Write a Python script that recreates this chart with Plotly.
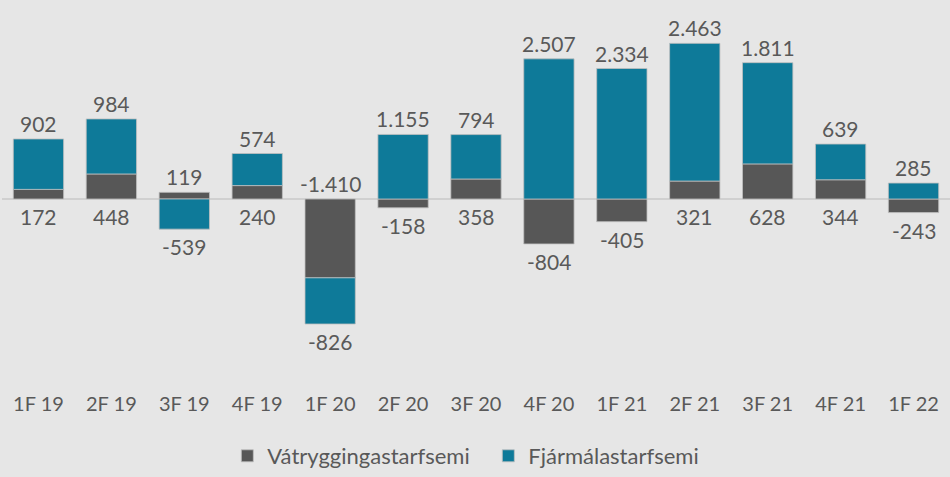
import plotly.graph_objects as go

categories = ["1F 19", "2F 19", "3F 19", "4F 19", "1F 20", "2F 20", "3F 20",
              "4F 20", "1F 21", "2F 21", "3F 21", "4F 21", "1F 22"]
vatrygging = [172, 448, 119, 240, -1410, -158, 358, -804, -405, 321, 628, 344, -243]
fjarmala = [902, 984, -539, 574, -826, 1155, 794, 2507, 2334, 2463, 1811, 639, 285]

GREY = "#575757"
TEAL = "#0E7A99"
TXT = "#595959"
BG = "#E6E6E6"
FONT = "Lato"


def fmt(v):
    s = f"{abs(v):,}".replace(",", ".")
    return ("-" if v < 0 else "") + s


fig = go.Figure()
fig.add_trace(go.Bar(x=categories, y=vatrygging, name="Vátryggingastarfsemi",
                     marker=dict(color=GREY, line=dict(color="#BFBFBF", width=0.8))))
fig.add_trace(go.Bar(x=categories, y=fjarmala, name="Fjármálastarfsemi",
                     marker=dict(color=TEAL, line=dict(color="#BFBFBF", width=0.8))))

for c, g, f in zip(categories, vatrygging, fjarmala):
    pos = sum(v for v in (g, f) if v > 0)
    neg = sum(v for v in (g, f) if v < 0)
    if f > 0:
        top, bot = f, g
    else:
        top, bot = g, f
    fig.add_annotation(x=c, y=pos, text=fmt(top), showarrow=False, yanchor="bottom",
                       yshift=1, font=dict(size=21, color=TXT, family=FONT))
    fig.add_annotation(x=c, y=neg, text=fmt(bot), showarrow=False, yanchor="top",
                       yshift=-3, font=dict(size=21, color=TXT, family=FONT))

fig.update_layout(
    barmode="relative",
    bargap=0.31,
    width=950, height=477,
    margin=dict(l=2, r=0, t=11, b=86),
    paper_bgcolor=BG, plot_bgcolor=BG,
    font=dict(family=FONT, color=TXT, size=16),
    xaxis=dict(showgrid=False, showline=False, ticks="", tickfont=dict(size=20, color=TXT),
               ticklabelstandoff=5),
    yaxis=dict(range=[-3327, 3363], showgrid=False, showticklabels=False,
               zeroline=True, zerolinecolor="#D0D0D0", zerolinewidth=1.5),
    legend=dict(orientation="h", x=0.513, xanchor="center", y=-0.19, yanchor="middle",
                font=dict(size=22, color=TXT), traceorder="normal", itemwidth=30,
                entrywidth=216),
    showlegend=True,
)

fig.write_html("out.html", config={"displayModeBar": False},
               post_script="document.body.style.margin='0';")
